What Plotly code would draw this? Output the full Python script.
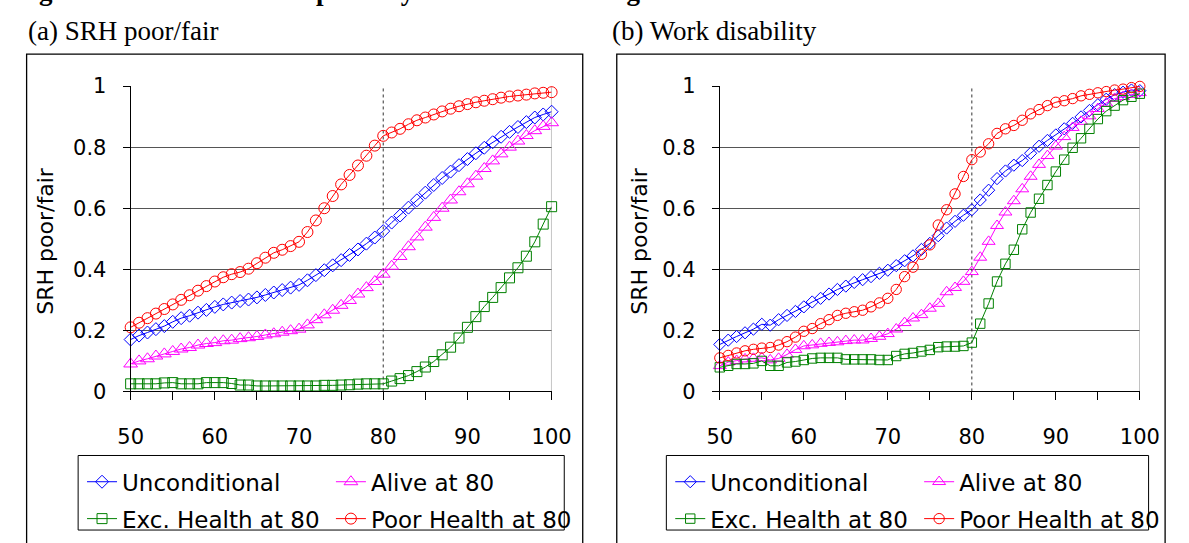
import plotly.graph_objects as go

# ---------------------------------------------------------------- data
ages = list(range(50, 101))

series_names = ["Unconditional", "Alive at 80", "Exc. Health at 80", "Poor Health at 80"]
series_colors = ["#0000FF", "#FF00FF", "#008000", "#FF0000"]
series_symbols = ["diamond-open", "triangle-up-open", "square-open", "circle-open"]

# (a) SRH poor/fair
srh_uncond = [0.170, 0.183, 0.193, 0.204, 0.214, 0.228, 0.240, 0.248, 0.258, 0.267,
              0.277, 0.285, 0.291, 0.296, 0.301, 0.308, 0.316, 0.324, 0.332, 0.340,
              0.349, 0.364, 0.381, 0.397, 0.413, 0.430, 0.447, 0.465, 0.484, 0.504,
              0.525, 0.553, 0.576, 0.602, 0.626, 0.651, 0.676, 0.699, 0.720, 0.741,
              0.761, 0.780, 0.798, 0.816, 0.834, 0.850, 0.866, 0.882, 0.897, 0.907,
              0.916]
srh_alive80 = [0.090, 0.100, 0.107, 0.116, 0.123, 0.131, 0.139, 0.144, 0.152, 0.157,
               0.160, 0.166, 0.168, 0.173, 0.176, 0.180, 0.185, 0.189, 0.194, 0.199,
               0.204, 0.218, 0.235, 0.251, 0.266, 0.282, 0.298, 0.319, 0.340, 0.360,
               0.384, 0.410, 0.442, 0.474, 0.506, 0.538, 0.570, 0.600, 0.627, 0.654,
               0.680, 0.705, 0.730, 0.755, 0.778, 0.800, 0.820, 0.838, 0.854, 0.868,
               0.880]
srh_exc80 = [0.025, 0.025, 0.025, 0.025, 0.028, 0.029, 0.025, 0.025, 0.025, 0.029,
             0.029, 0.029, 0.026, 0.021, 0.021, 0.018, 0.018, 0.018, 0.018, 0.018,
             0.018, 0.018, 0.018, 0.020, 0.020, 0.021, 0.022, 0.024, 0.025, 0.025,
             0.025, 0.034, 0.042, 0.052, 0.065, 0.080, 0.098, 0.120, 0.145, 0.175,
             0.210, 0.245, 0.278, 0.308, 0.340, 0.372, 0.405, 0.443, 0.490, 0.548,
             0.605]
srh_poor80 = [0.210, 0.225, 0.240, 0.255, 0.270, 0.285, 0.300, 0.315, 0.330, 0.345,
              0.360, 0.374, 0.384, 0.391, 0.402, 0.420, 0.438, 0.454, 0.464, 0.476,
              0.490, 0.522, 0.560, 0.600, 0.640, 0.678, 0.709, 0.740, 0.772, 0.805,
              0.837, 0.848, 0.860, 0.875, 0.888, 0.897, 0.907, 0.917, 0.926, 0.934,
              0.941, 0.947, 0.952, 0.957, 0.962, 0.966, 0.969, 0.972, 0.976, 0.978,
              0.980]

# (b) Work disability
wd_uncond = [0.154, 0.168, 0.180, 0.192, 0.204, 0.220, 0.217, 0.235, 0.249, 0.262,
             0.277, 0.293, 0.305, 0.319, 0.334, 0.345, 0.357, 0.366, 0.376, 0.387,
             0.397, 0.412, 0.428, 0.444, 0.465, 0.485, 0.510, 0.535, 0.557, 0.577,
             0.595, 0.627, 0.659, 0.697, 0.722, 0.741, 0.756, 0.780, 0.803, 0.822,
             0.840, 0.860, 0.878, 0.899, 0.920, 0.939, 0.957, 0.972, 0.980, 0.987,
             0.985]
wd_alive80 = [0.084, 0.096, 0.101, 0.106, 0.108, 0.110, 0.103, 0.108, 0.121, 0.137,
              0.149, 0.152, 0.157, 0.160, 0.162, 0.166, 0.168, 0.168, 0.173, 0.180,
              0.189, 0.204, 0.225, 0.240, 0.251, 0.272, 0.288, 0.326, 0.340, 0.360,
              0.392, 0.439, 0.491, 0.543, 0.587, 0.624, 0.663, 0.704, 0.743, 0.772,
              0.803, 0.834, 0.864, 0.884, 0.902, 0.926, 0.944, 0.959, 0.965, 0.972,
              0.978]
wd_exc80 = [0.079, 0.084, 0.090, 0.090, 0.092, 0.100, 0.084, 0.084, 0.095, 0.098,
            0.103, 0.108, 0.110, 0.110, 0.110, 0.105, 0.105, 0.105, 0.105, 0.103,
            0.103, 0.116, 0.123, 0.126, 0.131, 0.136, 0.145, 0.147, 0.147, 0.149,
            0.160, 0.222, 0.288, 0.360, 0.418, 0.464, 0.531, 0.586, 0.631, 0.676,
            0.720, 0.759, 0.798, 0.829, 0.860, 0.892, 0.918, 0.936, 0.954, 0.965,
            0.975]
wd_poor80 = [0.110, 0.118, 0.126, 0.133, 0.138, 0.142, 0.144, 0.152, 0.163, 0.178,
             0.197, 0.206, 0.222, 0.235, 0.249, 0.256, 0.261, 0.266, 0.277, 0.290,
             0.305, 0.334, 0.376, 0.407, 0.449, 0.480, 0.545, 0.595, 0.647, 0.704,
             0.759, 0.784, 0.811, 0.845, 0.860, 0.871, 0.888, 0.909, 0.923, 0.936,
             0.947, 0.952, 0.959, 0.968, 0.973, 0.978, 0.982, 0.987, 0.990, 0.995,
             0.999]

x_ticks = list(range(50, 101, 5))
x_tick_text = [str(v) if v % 10 == 0 else "" for v in x_ticks]
y_ticks = [0, 0.2, 0.4, 0.6, 0.8, 1]
y_tick_text = ["0", "0.2", "0.4", "0.6", "0.8", "1"]

figure_title = "Figure 3: Health outcome paths by health at 80 and age"
panel_titles = ["(a) SRH poor/fair", "(b) Work disability"]
y_title = "SRH poor/fair"
cutoff_age = 80

# ---------------------------------------------------------------- layout helpers
W, H = 1189, 543


def fx(p):
    return p / W


def fy(p):
    return 1 - p / H


SANS = "DejaVu Sans"
SERIF = "Liberation Serif, Times New Roman, serif"
PLOT_TOP, PLOT_BOTTOM = 77.5, 397

panels = [
    dict(data=[srh_uncond, srh_alive80, srh_exc80, srh_poor80],
         x0=121, x1=554, box=(14, 586), legbox=(67, 567),
         legs=("legend", "legend2"), ytitle_x=34, title_x=13, msize=1.0),
    dict(data=[wd_uncond, wd_alive80, wd_exc80, wd_poor80],
         x0=727, x1=1159, box=(621, 1185), legbox=(672, 1168),
         legs=("legend3", "legend4"), ytitle_x=645, title_x=614, msize=0.94),
]

marker_sizes = [10, 12, 10, 11]

fig = go.Figure()
shapes = []
annotations = []
layout = {}

for i, p in enumerate(panels):
    sfx = "" if i == 0 else str(i + 1)
    xa, ya = "x" + sfx, "y" + sfx
    for k in range(4):
        leg = p["legs"][0] if k in (0, 2) else p["legs"][1]
        fig.add_trace(go.Scatter(
            x=ages, y=p["data"][k], name=series_names[k],
            mode="lines+markers", xaxis=xa, yaxis=ya,
            legend=leg, legendgroup=f"{i}-{k}",
            line=dict(color=series_colors[k], width=1),
            marker=dict(symbol=series_symbols[k], color=series_colors[k],
                        size=marker_sizes[k] * p["msize"],
                        line=dict(color=series_colors[k], width=1)),
            cliponaxis=False,
        ))

    layout["xaxis" + sfx] = dict(
        domain=[fx(p["x0"]), fx(p["x1"])], anchor=ya, range=[50, 100],
        tickmode="array", tickvals=x_ticks, ticktext=x_tick_text,
        showgrid=False, zeroline=False, showline=True, linecolor="black", linewidth=1,
        ticks="outside", ticklen=8, tickcolor="black", tickwidth=1,
        ticklabelstandoff=18,
        tickfont=dict(family=SANS, size=21, color="black"),
    )
    layout["yaxis" + sfx] = dict(
        domain=[fy(PLOT_BOTTOM), fy(PLOT_TOP)], anchor=xa, range=[0, 1],
        tickmode="array", tickvals=y_ticks, ticktext=y_tick_text,
        showgrid=True, gridcolor="#555555", gridwidth=1.3,
        zeroline=False, showline=True, linecolor="black", linewidth=1,
        ticks="outside", ticklen=7, tickcolor="black", tickwidth=1,
        ticklabelstandoff=12,
        tickfont=dict(family=SANS, size=21, color="black"),
    )

    # right-hand edge of the plot area
    shapes.append(dict(type="line", xref=xa, yref=ya, x0=100, x1=100, y0=0, y1=1,
                       line=dict(color="#a6a6a6", width=1.3), layer="between"))
    # marker line at age 80
    shapes.append(dict(type="line", xref=xa, yref=ya, x0=cutoff_age, x1=cutoff_age,
                       y0=0, y1=1, line=dict(color="#333333", width=1, dash="3px,3px"),
                       layer="between"))
    # outer panel frame
    shapes.append(dict(type="rect", xref="paper", yref="paper",
                       x0=fx(p["box"][0]), x1=fx(p["box"][1]), y0=fy(44), y1=fy(560),
                       line=dict(color="black", width=1.3)))
    # legend frame
    shapes.append(dict(type="rect", xref="paper", yref="paper",
                       x0=fx(p["legbox"][0]), x1=fx(p["legbox"][1]),
                       y0=fy(464), y1=fy(542),
                       line=dict(color="black", width=1), fillcolor="white",
                       layer="below"))

    for j, leg in enumerate(p["legs"]):
        lx = p["legbox"][0] + 4 + j * 256
        layout[leg] = dict(
            x=fx(lx), y=fy(469), xanchor="left", yanchor="top",
            orientation="v", bgcolor="rgba(0,0,0,0)", borderwidth=0,
            font=dict(family=SANS, size=23, color="black"),
            itemwidth=30, tracegroupgap=4, traceorder="grouped",
        )

    annotations.append(dict(
        text=y_title, xref="paper", yref="paper", x=fx(p["ytitle_x"]),
        y=fy((PLOT_TOP + PLOT_BOTTOM) / 2 + 3), textangle=-90, showarrow=False,
        xanchor="center", yanchor="middle",
        font=dict(family=SANS, size=22, color="black"),
    ))
    annotations.append(dict(
        text=panel_titles[i], xref="paper", yref="paper", x=fx(p["title_x"]),
        y=fy(20), xanchor="left", yanchor="middle", showarrow=False,
        font=dict(family=SERIF, size=27, color="black"),
    ))

# figure caption sits above the page edge; only its descenders reach the page
annotations.append(dict(
    text="<b>" + figure_title + "</b>", xref="paper", yref="paper", x=0, y=1,
    xanchor="left", yanchor="bottom", yshift=4, showarrow=False,
    font=dict(family=SERIF, size=27, color="black"),
))

fig.update_layout(
    width=W, height=H, margin=dict(l=0, r=0, t=0, b=0),
    paper_bgcolor="white", plot_bgcolor="white",
    showlegend=True, shapes=shapes, annotations=annotations,
    **layout,
)

fig.write_html("out.html")
